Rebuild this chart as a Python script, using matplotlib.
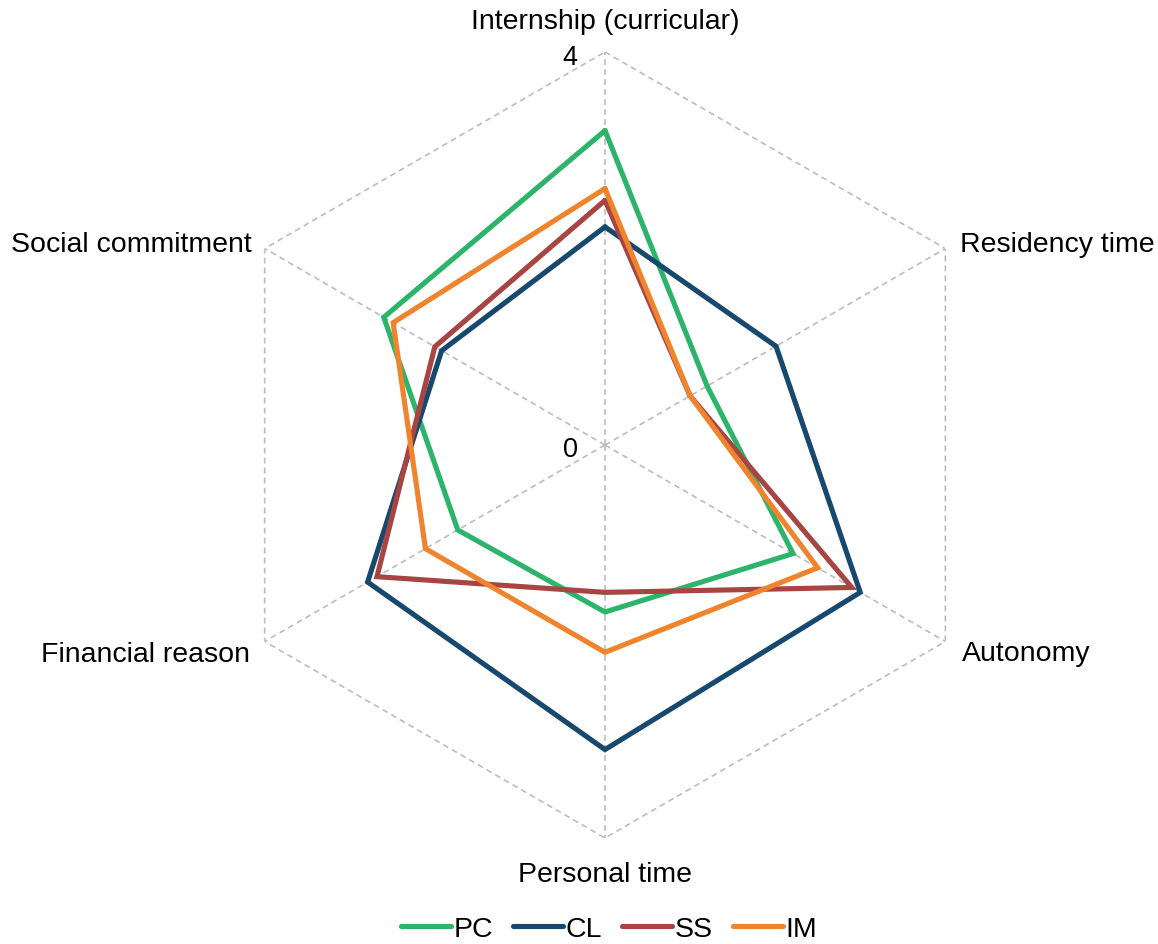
import numpy as np
import matplotlib
matplotlib.use("Agg")
import matplotlib.pyplot as plt

plt.rcParams['font.family'] = ['Liberation Sans', 'DejaVu Sans']

categories = ["Internship (curricular)", "Residency time", "Autonomy",
              "Personal time", "Financial reason", "Social commitment"]
series_names = ["PC", "CL", "SS", "IM"]
pc = [3.20, 1.20, 2.21, 1.70, 1.73, 2.60]
cl = [2.22, 2.01, 3.00, 3.10, 2.79, 1.92]
ss = [2.49, 1.00, 2.90, 1.50, 2.68, 2.00]
im = [2.61, 1.00, 2.50, 2.11, 2.11, 2.49]
tick_labels = ["0", "4"]

colors = ["#2BB46A", "#17486E", "#A84442", "#F0842D"]

fig = plt.figure(figsize=(11.58, 9.45), dpi=100)
ax = fig.add_axes([212/1158, 1-839/945, 786/1158, 786/945], projection='polar')
ax.set_theta_zero_location('N')
ax.set_theta_direction(-1)
ax.set_ylim(0, 4)
ax.grid(False)
ax.spines['polar'].set_visible(False)
ax.set_xticks([])
ax.set_yticks([])

n = len(categories)
theta = np.arange(n) * 2 * np.pi / n
theta_c = np.append(theta, theta[0])

# hexagon frame and spokes
rmax = 4
ax.plot(theta_c, [rmax] * (n + 1), color="#BDBDBD", lw=1.2, ls=(0, (3.5, 2.5)), zorder=1)
for t in theta:
    ax.plot([t, t], [0, rmax], color="#BDBDBD", lw=1.2, ls=(0, (3.5, 2.5)), zorder=1)

for name, vals, c in zip(series_names, [pc, cl, ss, im], colors):
    v = np.append(vals, vals[0])
    ax.plot(theta_c, v, color=c, lw=3.7, label=name, zorder=3, solid_joinstyle='miter',
            solid_capstyle='round')

# tick labels
ax.annotate(tick_labels[1], xy=(0, 4), xytext=(-35, -5), textcoords='offset pixels',
            ha='center', va='center', fontsize=19.5)
ax.annotate(tick_labels[0], xy=(0, 0), xytext=(-35, -4), textcoords='offset pixels',
            ha='center', va='center', fontsize=19.5)

# category labels
offsets = [(0, 31, 'center'), (15, 4, 'left'), (17, -12, 'left'),
           (0, -36, 'center'), (-15, -12, 'right'), (-13, 4, 'right')]
for t, lab, (dx, dy, ha) in zip(theta, categories, offsets):
    ax.annotate(lab, xy=(t, rmax), xytext=(dx, dy), textcoords='offset pixels',
                ha=ha, va='center', fontsize=20.5)

fig.legend(loc='center', bbox_to_anchor=(609/1158, 1-930/945), ncol=4, frameon=False,
           fontsize=20.5, handlelength=1.75, handletextpad=0.1, columnspacing=0.7,
           borderaxespad=0)

fig.savefig("out.png", dpi=100)
